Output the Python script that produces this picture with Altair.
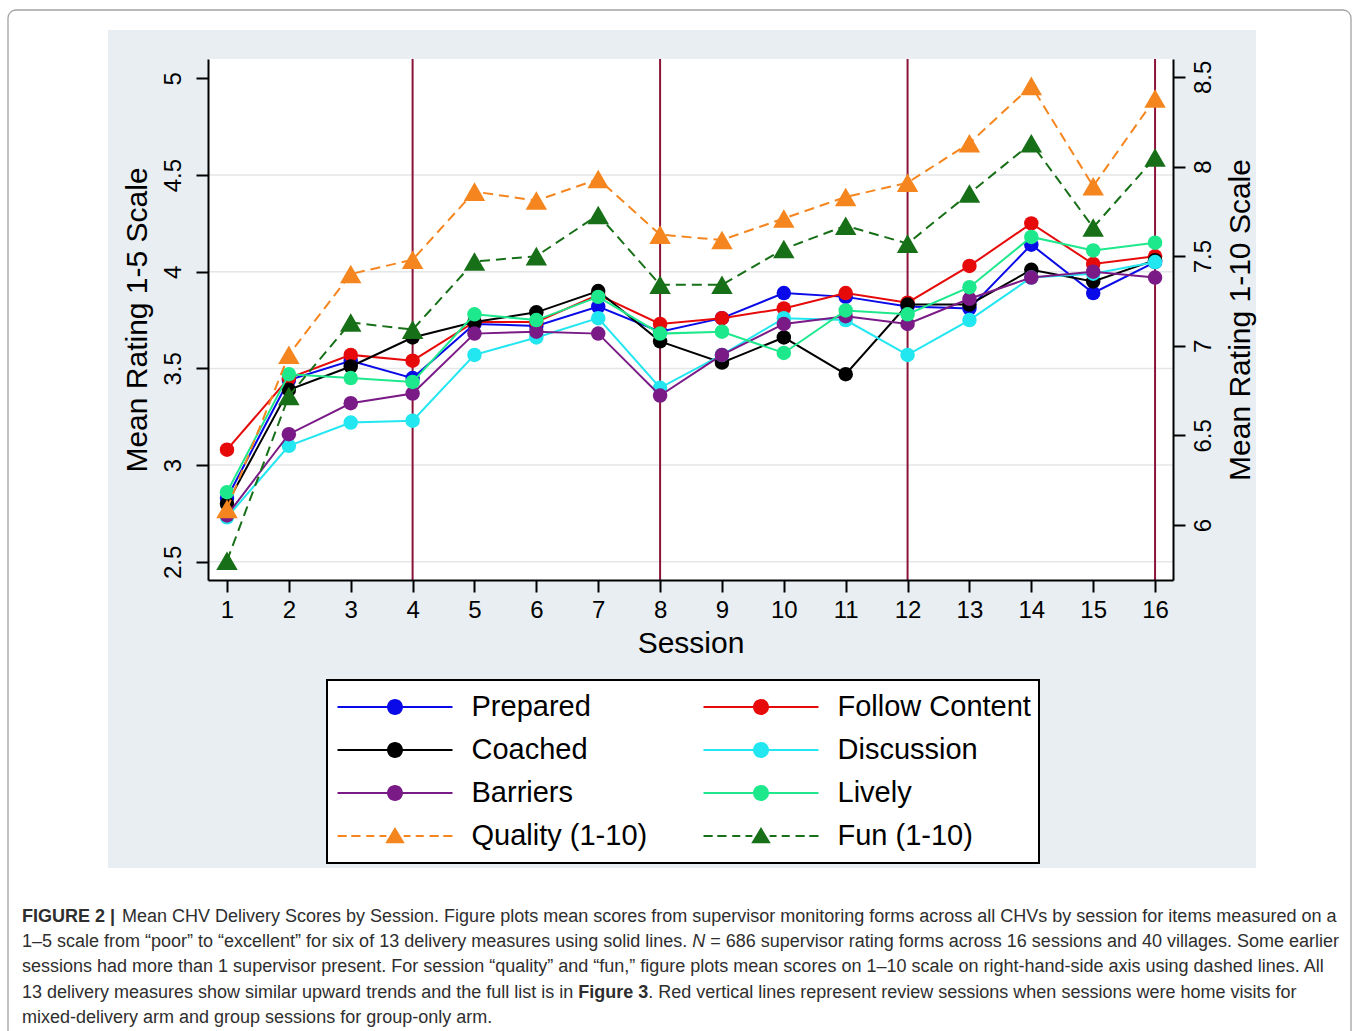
import altair as alt
import pandas as pd

# ---------------- data ----------------
sessions = list(range(1, 17))

prepared       = [2.83, 3.44, 3.54, 3.45, 3.73, 3.72, 3.82, 3.69, 3.76, 3.89, 3.87, 3.82, 3.81, 4.14, 3.89, 4.05]
follow_content = [3.08, 3.45, 3.57, 3.54, 3.74, 3.74, 3.88, 3.73, 3.76, 3.81, 3.89, 3.84, 4.03, 4.25, 4.04, 4.08]
coached        = [2.80, 3.39, 3.51, 3.66, 3.74, 3.79, 3.90, 3.64, 3.53, 3.66, 3.47, 3.83, 3.83, 4.01, 3.95, 4.06]
discussion     = [2.73, 3.10, 3.22, 3.23, 3.57, 3.66, 3.76, 3.40, 3.57, 3.76, 3.75, 3.57, 3.75, 3.97, 3.99, 4.05]
barriers       = [2.74, 3.16, 3.32, 3.37, 3.68, 3.69, 3.68, 3.36, 3.57, 3.73, 3.77, 3.73, 3.86, 3.97, 4.00, 3.97]
lively         = [2.86, 3.47, 3.45, 3.43, 3.78, 3.75, 3.87, 3.68, 3.69, 3.58, 3.80, 3.78, 3.92, 4.18, 4.11, 4.15]
quality        = [6.09, 6.95, 7.40, 7.48, 7.86, 7.81, 7.93, 7.62, 7.59, 7.71, 7.83, 7.91, 8.13, 8.45, 7.89, 8.38]
fun            = [5.80, 6.72, 7.13, 7.09, 7.47, 7.50, 7.73, 7.34, 7.34, 7.54, 7.67, 7.57, 7.85, 8.13, 7.66, 8.05]

series_names  = ["Prepared", "Follow Content", "Coached", "Discussion",
                 "Barriers", "Lively", "Quality (1-10)", "Fun (1-10)"]
series_values = [prepared, follow_content, coached, discussion,
                 barriers, lively, quality, fun]
series_axis   = ["left", "left", "left", "left", "left", "left", "right", "right"]
series_colors = ["#0A0AE8", "#E60A0A", "#000000", "#22E6F0",
                 "#7A1A86", "#1DE88C", "#F5861F", "#176F17"]

review_sessions = [4, 8, 12, 16]
left_ticks  = [2.5, 3, 3.5, 4, 4.5, 5]
grid_values = [2.5, 3, 3.5, 4, 4.5]
right_ticks = [6, 6.5, 7, 7.5, 8, 8.5]

caption_lines = [
    ["FIGURE 2 |",
     "Mean CHV Delivery Scores by Session. Figure plots mean scores from supervisor monitoring forms across all CHVs by session for items measured on a"],
    ["1\u20135 scale from \u201cpoor\u201d to \u201cexcellent\u201d for six of 13 delivery measures using solid lines.",
     "N",
     "= 686 supervisor rating forms across 16 sessions and 40 villages. Some earlier"],
    ["sessions had more than 1 supervisor present. For session \u201cquality\u201d and \u201cfun,\u201d figure plots mean scores on 1\u201310 scale on right-hand-side axis using dashed lines. All"],
    ["13 delivery measures show similar upward trends and the full list is in",
     "Figure 3",
     ". Red vertical lines represent review sessions when sessions were home visits for"],
    ["mixed-delivery arm and group sessions for group-only arm."],
]

# ---------------- geometry / style ----------------
FONT = "Liberation Sans"
PL, PT = 208, 59          # plot-area origin on the page
W, H = 965, 521           # plot-area size
PAGE_W, PAGE_H = 1360, 1031

one = pd.DataFrame({"k": [0]})

common_axis = dict(labelFontSize=24, labelFont=FONT, labelColor="black",
                   labelOverlap=False, labelBound=False, labelFlush=False,
                   tickSize=12, tickWidth=2, tickColor="black",
                   domainColor="black", domainWidth=2, grid=False,
                   titleFontSize=30, titleFont=FONT, titleFontWeight="normal",
                   titleColor="black", titleAlign="center", titleBaseline="middle",
                   zindex=1)

x_enc = alt.X(
    "session:Q",
    scale=alt.Scale(domain=[0.693, 16.29], nice=False, zero=False),
    axis=alt.Axis(values=sessions, title="Session", format="d",
                  labelBaseline="middle", labelPadding=18,
                  titleX=W / 2, titleY=63, **common_axis),
)

y_left = alt.Y(
    "value:Q",
    scale=alt.Scale(domain=[2.406, 5.10], nice=False, zero=False),
    axis=alt.Axis(orient="left", values=left_ticks, format="~g",
                  title="Mean Rating 1-5 Scale",
                  labelAngle=270, labelAlign="center", labelBaseline="middle",
                  labelPadding=23, titleAngle=270, titleX=-71, titleY=H / 2,
                  **common_axis),
)

y_right = alt.Y(
    "value:Q",
    scale=alt.Scale(domain=[5.693, 8.60], nice=False, zero=False),
    axis=alt.Axis(orient="right", values=right_ticks, format="~g",
                  title="Mean Rating 1-10 Scale",
                  labelAngle=270, labelAlign="center", labelBaseline="middle",
                  labelPadding=18, titleAngle=270, titleX=67, titleY=H / 2,
                  **common_axis),
)

# ---------------- decoration ----------------
frame = alt.Chart(one).mark_rect(
    fillOpacity=0, stroke="#A3A3A3", strokeWidth=1.3, cornerRadius=8
).encode(x=alt.value(8 - PL), x2=alt.value(1351 - PL),
         y=alt.value(10 - PT), y2=alt.value(PAGE_H + 12 - PT))

panel = alt.Chart(one).mark_rect(fill="#E8EEF1").encode(
    x=alt.value(108 - PL), x2=alt.value(1256 - PL),
    y=alt.value(30 - PT), y2=alt.value(868 - PT))

plot_bg = alt.Chart(one).mark_rect(fill="white").encode(
    x=alt.value(0), x2=alt.value(W), y=alt.value(0), y2=alt.value(H))

grid = alt.Chart(pd.DataFrame({"value": grid_values})).mark_rule(
    color="#E4E6E8", strokeWidth=1.5).encode(y=y_left)

review = alt.Chart(pd.DataFrame({"session": review_sessions})).mark_rule(
    color="#8A1538", strokeWidth=2).encode(x=x_enc)

left_layers = [grid, review]
right_layers = []
for name, vals, side, col in zip(series_names, series_values, series_axis, series_colors):
    d = pd.DataFrame({"session": sessions, "value": vals})
    y = y_left if side == "left" else y_right
    if side == "left":
        ln = alt.Chart(d).mark_line(color=col, strokeWidth=2).encode(x=x_enc, y=y)
        pt = alt.Chart(d).mark_point(filled=True, opacity=1, shape="circle",
                                     size=210, color=col).encode(x=x_enc, y=y)
        left_layers += [ln, pt]
    else:
        ln = alt.Chart(d).mark_line(color=col, strokeWidth=2,
                                    strokeDash=[10, 6]).encode(x=x_enc, y=y)
        pt = alt.Chart(d).mark_point(filled=True, opacity=1, shape="triangle-up",
                                     size=460, color=col).encode(x=x_enc, y=y)
        right_layers += [ln, pt]

left_group = alt.layer(*left_layers)
right_group = alt.layer(*right_layers)

# ---------------- legend (real Vega legend with line+marker symbols) ----------------
def circle_line(r=0.139, t=0.018):
    return (f"M-1,-{t}H1V{t}H-1Z "
            f"M{r},0A{r},{r} 0 1,1 -{r},0A{r},{r} 0 1,1 {r},0Z")

def triangle_dash(t=0.018):
    segs = [(-1.0, -0.84), (-0.76, -0.60), (-0.50, -0.36), (-0.27, -0.15),
            (0.15, 0.27), (0.36, 0.50), (0.60, 0.76), (0.84, 1.0)]
    p = " ".join(f"M{a},-{t}H{b}V{t}H{a}Z" for a, b in segs)
    return p + " M0,-0.155L0.17,0.125L-0.17,0.125Z"

legend_shapes = [circle_line() if s == "left" else triangle_dash() for s in series_axis]

legend_def = alt.Legend(
    title=None, orient="none", legendX=327 - PL, legendY=680 - PT,
    direction="horizontal", columns=2,
    symbolSize=115 * 115, symbolStrokeWidth=0, symbolOpacity=1,
    symbolOffset=2.5, labelOffset=19, clipHeight=38, rowPadding=5,
    columnPadding=53, padding=8, labelFont=FONT, labelFontSize=29,
    labelColor="black", labelLimit=500, strokeColor="black",
    fillColor="white", zindex=1,
)

legend_layer = alt.Chart(pd.DataFrame({"series": series_names})).mark_point(
    filled=True, opacity=0
).encode(
    x=alt.value(0), y=alt.value(0),
    color=alt.Color("series:N", scale=alt.Scale(domain=series_names, range=series_colors),
                    legend=legend_def),
    shape=alt.Shape("series:N", scale=alt.Scale(domain=series_names, range=legend_shapes),
                    legend=legend_def),
)

# ---------------- caption ----------------
CFS = 18.0
line_y = [917, 942, 967, 993, 1018]

def cap(text, x, y, weight="normal", style="normal"):
    return alt.Chart(one).mark_text(
        text=text, align="left", baseline="middle", font=FONT, fontSize=CFS,
        fontWeight=weight, fontStyle=style, color="#2E2E2E"
    ).encode(x=alt.value(x - PL), y=alt.value(y - PT))

caption_layers = [
    cap(caption_lines[0][0], 22, line_y[0], weight="bold"),
    cap(caption_lines[0][1], 122, line_y[0]),
    cap(caption_lines[1][0], 22, line_y[1]),
    cap(caption_lines[1][1], 22 + 37.235 * CFS, line_y[1], style="italic"),
    cap(caption_lines[1][2], 22 + (37.235 + 0.722 + 0.278) * CFS, line_y[1]),
    cap(caption_lines[2][0], 22, line_y[2]),
    cap(caption_lines[3][0], 22, line_y[3]),
    cap(caption_lines[3][1], 22 + 30.899 * CFS, line_y[3], weight="bold"),
    cap(caption_lines[3][2], 22 + (30.899 + 3.890) * CFS, line_y[3]),
    cap(caption_lines[4][0], 22, line_y[4]),
]

chart = alt.layer(
    frame, panel, plot_bg, left_group, right_group, legend_layer, *caption_layers
).resolve_scale(
    y="independent"
).properties(
    width=W, height=H,
    padding={"left": PL, "top": PT, "right": PAGE_W - PL - W, "bottom": PAGE_H - PT - H},
    autosize=alt.AutoSizeParams(type="none"),
    background="white",
).configure_view(
    strokeWidth=0
).configure_legend(
    strokeWidth=2
)

chart.save("out.html", embed_options={"renderer": "svg", "actions": False})
